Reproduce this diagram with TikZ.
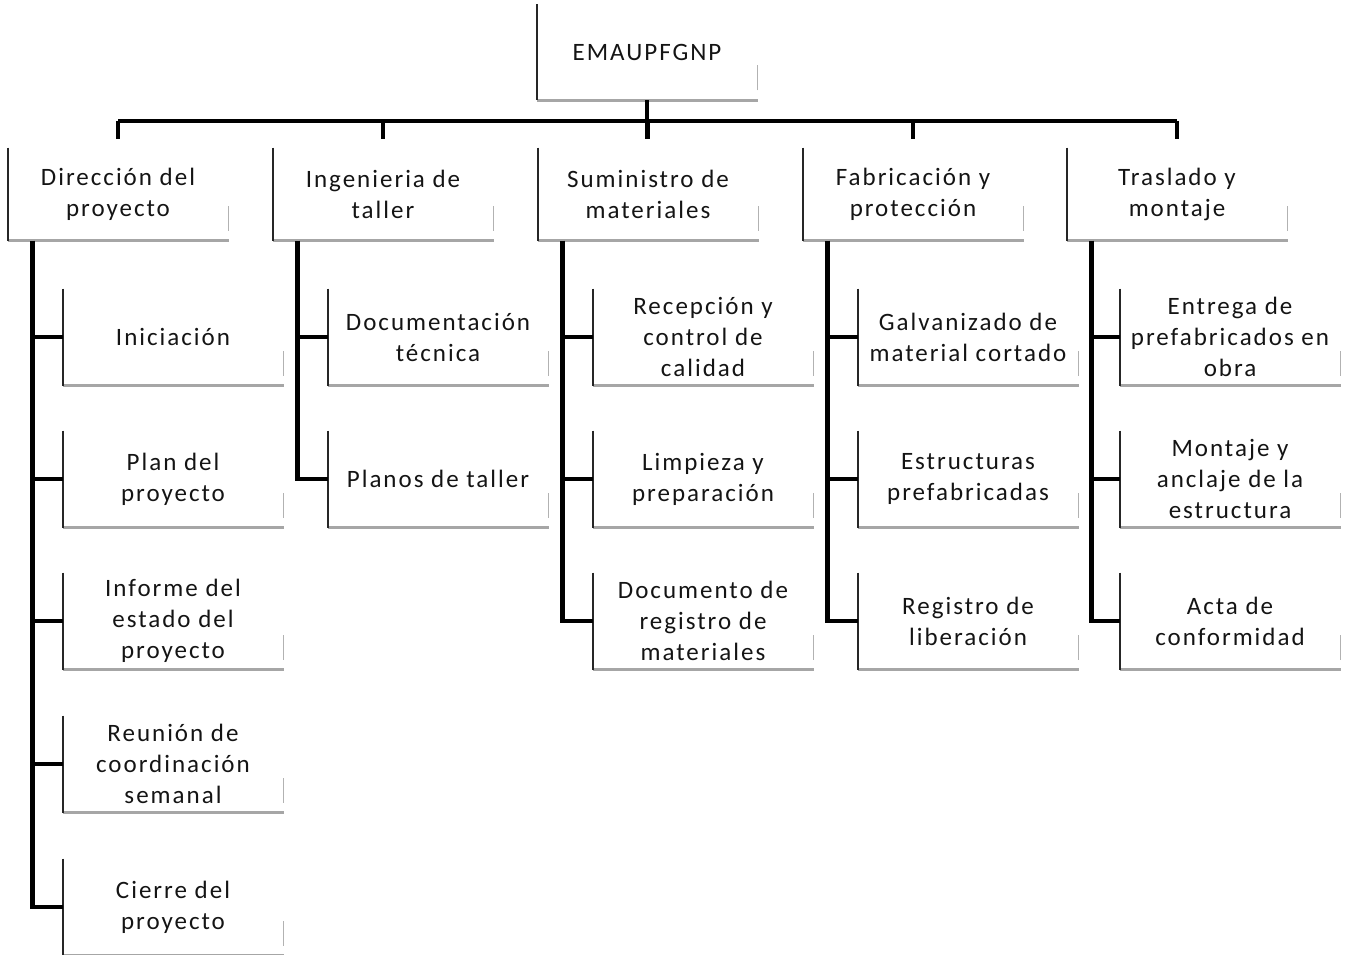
\documentclass[tikz,border=0pt]{standalone}
\usepackage{fontspec}
\setmainfont[LetterSpace=8]{Carlito}
\usepackage{tikz}

\begin{document}
\begin{tikzpicture}[x=1pt, y=-1pt, line width=1pt,
    wbs/.style={rectangle, inner sep=0pt, minimum width=220pt, minimum height=96pt,
      align=center, text=black!92, font=\fontsize{25}{31}\selectfont},
    wire/.style={line width=4.5pt, color=black},
    edgeleft/.style={line width=2pt, color=black!85},
    edgebottom/.style={line width=3pt, color=black!35}]

    \useasboundingbox (0, 0) rectangle (1354, 955);

    % draw root
    \node[wbs, minimum height=95pt] (root) at (647, 52.5) {EMAUPFGNP};

    % draw first level
    \node[wbs, minimum height=92pt] (dir) at (118, 194) {Dirección del\\proyecto};
    \node[wbs, minimum height=92pt] (ing) at (383, 194) {Ingenieria de\\taller};
    \node[wbs, minimum height=92pt] (sum) at (648, 194) {Suministro de\\materiales};
    \node[wbs, minimum height=92pt] (fab) at (913, 194) {Fabricación y\\protección};
    \node[wbs, minimum height=92pt] (tra) at (1177, 194) {Traslado y\\montaje};

    % draw work packages
    \node[wbs] (dir1) at (173, 337) {Iniciación};
    \node[wbs] (dir2) at (173, 479) {Plan del\\proyecto};
    \node[wbs] (dir3) at (173, 621) {Informe del\\estado del\\proyecto};
    \node[wbs] (dir4) at (173, 764) {Reunión de\\coordinación\\semanal};
    \node[wbs] (dir5) at (173, 907) {Cierre del\\proyecto};

    \node[wbs] (ing1) at (438, 337) {Documentación\\técnica};
    \node[wbs] (ing2) at (438, 479) {Planos de taller};

    \node[wbs] (sum1) at (703, 337) {Recepción y\\control de\\calidad};
    \node[wbs] (sum2) at (703, 479) {Limpieza y\\preparación};
    \node[wbs] (sum3) at (703, 621) {Documento de\\registro de\\materiales};

    \node[wbs] (fab1) at (968, 337) {Galvanizado de\\material cortado};
    \node[wbs] (fab2) at (968, 479) {Estructuras\\prefabricadas};
    \node[wbs] (fab3) at (968, 621) {Registro de\\liberación};

    \node[wbs] (tra1) at (1230, 337) {Entrega de\\prefabricados en\\obra};
    \node[wbs] (tra2) at (1230, 479) {Montaje y\\anclaje de la\\estructura};
    \node[wbs] (tra3) at (1230, 621) {Acta de\\conformidad};

    % draw box edges
    \foreach \n in {root, dir, ing, sum, fab, tra, dir1, dir2, dir3, dir4, dir5,
                    ing1, ing2, sum1, sum2, sum3, fab1, fab2, fab3, tra1, tra2, tra3} {
        \draw[edgebottom] (\n.south west) -- (\n.south east);
        \draw[edgeleft] (\n.north west) -- (\n.south west);
        \draw[black!30, line width=0.8pt] ([yshift=10pt]\n.south east) -- ([yshift=35pt]\n.south east);
    }

    % draw bus
    \coordinate (busL) at (118, 121);
    \coordinate (busR) at (1177, 121);
    \draw[wire] (busL) -- (busR);
    \draw[wire] (root.south) -- ([yshift=8pt]root.south |- sum.north);
    \foreach \n in {dir, ing, sum, fab, tra}
        \draw[wire] (\n.north |- busL) -- ([yshift=8pt]\n.north);

    % draw spines
    \foreach \n/\k in {dir/5, ing/2, sum/3, fab/3, tra/3} {
        \draw[wire] ([xshift=25pt]\n.south west) |- (\n\k.west);
        \foreach \j in {1, ..., \k}
            \draw[wire] ([xshift=25pt]\n.south west |- \n\j.west) -- (\n\j.west);
    }

\end{tikzpicture}
\end{document}
